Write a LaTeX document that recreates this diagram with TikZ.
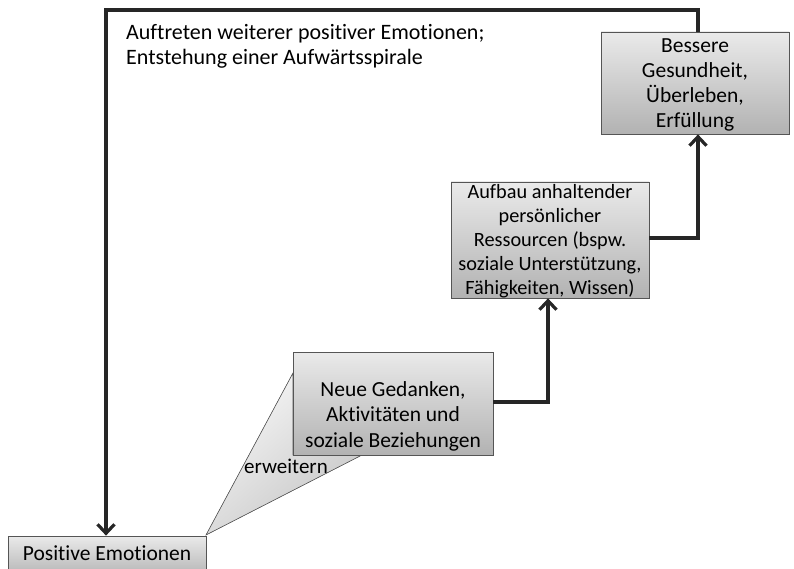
\documentclass[tikz,border=0pt]{standalone}
\usepackage{fontspec}
\setmainfont{Carlito}[Ligatures=NoCommon]
\usetikzlibrary{arrows.meta}
\definecolor{boxtop}{HTML}{EAEAEA}
\definecolor{boxbot}{HTML}{B2B2B2}
\definecolor{boxline}{HTML}{555555}
\definecolor{flow}{HTML}{262626}
\tikzset{
  box/.style={draw=boxline, line width=0.8pt, top color=boxtop, bottom color=boxbot, inner sep=0pt},
  boxtext/.style={align=center, font=\fontsize{21.5}{25}\selectfont, inner sep=0pt},
  flowline/.style={draw=flow, line width=3.6pt, -{Straight Barb[length=9pt, width=17pt, line width=3.2pt]}},
}
\begin{document}
\begin{tikzpicture}[x=1pt, y=-1pt]
\useasboundingbox (0,0) rectangle (794,569);
\begin{scope}
\clip (0,0) rectangle (794,569);
% wedge
\fill[left color=white!94!gray, right color=gray!45, shading angle=40, draw=boxline, line width=0.6pt]
  (206,535) -- (293,373) -- (293,455) -- (362,455) -- cycle;
% boxes
\node[box, minimum width=198pt, minimum height=42pt] (pos) at (107,557) {};
\node[boxtext] at (107,553) {Positive Emotionen};
\node[box, minimum width=200pt, minimum height=103pt] (neue) at (393,403.5) {};
\node[boxtext, font=\fontsize{21.5}{25.5}\selectfont] at (393,416) {Neue Gedanken,\\Aktivitäten und\\soziale Beziehungen};
\node[box, minimum width=198pt, minimum height=116pt] (aufbau) at (550,240) {};
\node[boxtext, font=\fontsize{20.3}{24}\selectfont] at (550,241) {Aufbau anhaltender\\persönlicher\\Ressourcen (bspw.\\soziale Unterstützung,\\Fähigkeiten, Wissen)};
\node[box, minimum width=188pt, minimum height=102pt] (bessere) at (695,83) {};
\node[boxtext, font=\fontsize{21.5}{25}\selectfont] at (695,85) {Bessere\\Gesundheit,\\Überleben,\\Erfüllung};
\end{scope}
% labels
\node[anchor=west, font=\fontsize{21}{24}\selectfont, inner sep=0pt] (erw) at (244,466) {erweitern};
\node[anchor=north west, align=left, font=\fontsize{22}{25}\selectfont, inner sep=0pt] (spiral) at (126,24) {Auftreten weiterer positiver Emotionen;\\Entstehung einer Aufwärtsspirale};
% connectors
\coordinate (c1) at (548,402);
\coordinate (c2) at (698,238);
\coordinate (t1) at (698,10);
\coordinate (t2) at (106,10);
\draw[flowline] (neue.east |- c1) -- (c1) -- (aufbau.south -| c1);
\draw[flowline] (aufbau.east |- c2) -- (c2) -- (bessere.south -| c2);
\draw[flowline] (bessere.north -| t1) -- (t1) -- (t2) -- (pos.north -| t2);
\end{tikzpicture}
\end{document}
